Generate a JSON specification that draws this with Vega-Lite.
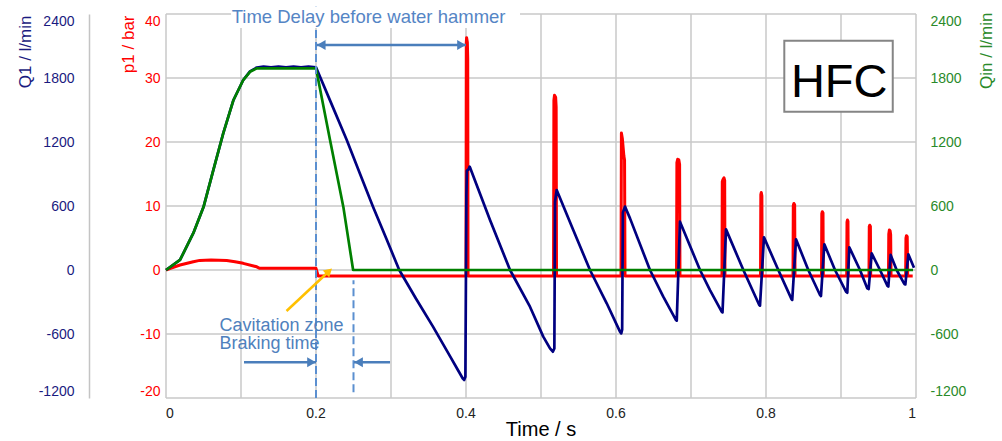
{
  "$schema": "https://vega.github.io/schema/vega-lite/v6.json",
  "width": 750,
  "height": 384,
  "autosize": {"type": "none"},
  "padding": {"left": 166, "top": 14, "right": 86, "bottom": 43},
  "background": "white",
  "config": {
    "font": "Liberation Sans",
    "view": {"stroke": null},
    "axis": {
      "labelFont": "Liberation Sans",
      "titleFont": "Liberation Sans",
      "titleFontWeight": "normal",
      "ticks": false,
      "domainColor": "#c4c4c4",
      "domainWidth": 1.5,
      "labelFontSize": 14,
      "labelOverlap": false
    }
  },
  "datasets": {
    "grid_t": [{"t": 0}, {"t": 0.1}, {"t": 0.2}, {"t": 0.3}, {"t": 0.4}, {"t": 0.5}, {"t": 0.6}, {"t": 0.7}, {"t": 0.8}, {"t": 0.9}, {"t": 1}],
    "grid_p": [
      {"level": -20, "t": 0, "p": -20}, {"level": -20, "t": 1, "p": -20},
      {"level": -10, "t": 0, "p": -10}, {"level": -10, "t": 1, "p": -10},
      {"level": 0, "t": 0, "p": 0}, {"level": 0, "t": 1, "p": 0},
      {"level": 10, "t": 0, "p": 10}, {"level": 10, "t": 1, "p": 10},
      {"level": 20, "t": 0, "p": 20}, {"level": 20, "t": 1, "p": 20},
      {"level": 30, "t": 0, "p": 30}, {"level": 30, "t": 1, "p": 30},
      {"level": 40, "t": 0, "p": 40}, {"level": 40, "t": 1, "p": 40}
    ],
    "time_ticks": [
      {"t": 0.2, "label": "0.2"}, {"t": 0.4, "label": "0.4"},
      {"t": 0.6, "label": "0.6"}, {"t": 0.8, "label": "0.8"}
    ],
    "time_start": [{"t": 0, "label": "0"}],
    "time_end": [{"t": 1, "label": "1"}],
    "time_title": [{"t": 0.5, "label": "Time / s"}],
    "pressure": [
      {"t": 0, "p": 0}, {"t": 0.006, "p": 0.25}, {"t": 0.0187, "p": 0.78}, {"t": 0.0364, "p": 1.3},
      {"t": 0.045, "p": 1.5}, {"t": 0.06, "p": 1.56}, {"t": 0.081, "p": 1.5}, {"t": 0.092, "p": 1.3},
      {"t": 0.103, "p": 1.04}, {"t": 0.121, "p": 0.5}, {"t": 0.125, "p": 0.26}, {"t": 0.2, "p": 0.26},
      {"t": 0.203, "p": -0.95},
      {"t": 0.4, "p": -0.95}, {"t": 0.4004, "p": 35.5}, {"t": 0.4008, "p": 36.3}, {"t": 0.4018, "p": 35.6}, {"t": 0.4023, "p": 33}, {"t": 0.4027, "p": -0.95},
      {"t": 0.5167, "p": -0.95}, {"t": 0.5172, "p": 26.5}, {"t": 0.518, "p": 27.3}, {"t": 0.5195, "p": 27}, {"t": 0.5202, "p": 25.5}, {"t": 0.5207, "p": -0.95},
      {"t": 0.6067, "p": -0.95}, {"t": 0.6072, "p": 21.4}, {"t": 0.6085, "p": 20.5}, {"t": 0.6105, "p": 17.8}, {"t": 0.6114, "p": 17.2}, {"t": 0.612, "p": -0.95},
      {"t": 0.6807, "p": -0.95}, {"t": 0.6812, "p": 16.8}, {"t": 0.6822, "p": 17.3}, {"t": 0.6838, "p": 17.2}, {"t": 0.6848, "p": 16.5}, {"t": 0.6853, "p": -0.95},
      {"t": 0.7413, "p": -0.95}, {"t": 0.7417, "p": 13.8}, {"t": 0.7425, "p": 14.1}, {"t": 0.744, "p": 14.4}, {"t": 0.7449, "p": 14}, {"t": 0.7453, "p": -0.95},
      {"t": 0.7927, "p": -0.95}, {"t": 0.7931, "p": 11.8}, {"t": 0.7937, "p": 12.1}, {"t": 0.7945, "p": 11.6}, {"t": 0.795, "p": -0.95},
      {"t": 0.836, "p": -0.95}, {"t": 0.8364, "p": 10.1}, {"t": 0.8372, "p": 10.4}, {"t": 0.8382, "p": 10.2}, {"t": 0.8387, "p": -0.95},
      {"t": 0.874, "p": -0.95}, {"t": 0.8744, "p": 8.8}, {"t": 0.8751, "p": 9.1}, {"t": 0.876, "p": 8.9}, {"t": 0.8764, "p": -0.95},
      {"t": 0.9076, "p": -0.95}, {"t": 0.908, "p": 7.5}, {"t": 0.9086, "p": 7.8}, {"t": 0.9093, "p": 7.6}, {"t": 0.9097, "p": -0.95},
      {"t": 0.9373, "p": -0.95}, {"t": 0.9377, "p": 6.8}, {"t": 0.9383, "p": 7.0}, {"t": 0.9392, "p": 6.8}, {"t": 0.9396, "p": -0.95},
      {"t": 0.9633, "p": -0.95}, {"t": 0.9637, "p": 5.6}, {"t": 0.9645, "p": 6.25}, {"t": 0.9655, "p": 6.1}, {"t": 0.9662, "p": 5.5}, {"t": 0.9667, "p": -0.95},
      {"t": 0.9862, "p": -0.95}, {"t": 0.9866, "p": 5.0}, {"t": 0.9873, "p": 5.36}, {"t": 0.9883, "p": 5.2}, {"t": 0.9889, "p": -0.95},
      {"t": 0.9956, "p": -0.95}
    ],
    "flow_q1": [
      {"t": 0, "q": 0}, {"t": 0.0187, "q": 94}, {"t": 0.0364, "q": 345}, {"t": 0.05, "q": 590}, {"t": 0.0631, "q": 937},
      {"t": 0.0764, "q": 1284}, {"t": 0.09, "q": 1594}, {"t": 0.103, "q": 1781}, {"t": 0.112, "q": 1862}, {"t": 0.121, "q": 1898},
      {"t": 0.13, "q": 1906}, {"t": 0.14, "q": 1899}, {"t": 0.15, "q": 1907}, {"t": 0.16, "q": 1900}, {"t": 0.17, "q": 1906},
      {"t": 0.18, "q": 1899}, {"t": 0.19, "q": 1906}, {"t": 0.2, "q": 1900},
      {"t": 0.2205, "q": 1560}, {"t": 0.241, "q": 1219}, {"t": 0.2585, "q": 905}, {"t": 0.276, "q": 594}, {"t": 0.294, "q": 290},
      {"t": 0.311, "q": 0}, {"t": 0.333, "q": -265}, {"t": 0.356, "q": -531}, {"t": 0.379, "q": -812}, {"t": 0.389, "q": -935},
      {"t": 0.3955, "q": -1015}, {"t": 0.3975, "q": -1031}, {"t": 0.3992, "q": -1000},
      {"t": 0.4005, "q": 700}, {"t": 0.4012, "q": 930}, {"t": 0.4035, "q": 945}, {"t": 0.4048, "q": 969}, {"t": 0.406, "q": 950},
      {"t": 0.432, "q": 469}, {"t": 0.4587, "q": 0}, {"t": 0.4853, "q": -344}, {"t": 0.503, "q": -625}, {"t": 0.512, "q": -735},
      {"t": 0.5158, "q": -766}, {"t": 0.5178, "q": -735},
      {"t": 0.5187, "q": 640}, {"t": 0.5209, "q": 750},
      {"t": 0.543, "q": 375}, {"t": 0.5653, "q": 0}, {"t": 0.5876, "q": -312}, {"t": 0.6053, "q": -578}, {"t": 0.607, "q": -594},
      {"t": 0.6082, "q": -560}, {"t": 0.6092, "q": 540}, {"t": 0.612, "q": 594},
      {"t": 0.6187, "q": 484}, {"t": 0.6453, "q": 0}, {"t": 0.663, "q": -250}, {"t": 0.68, "q": -469}, {"t": 0.681, "q": -475},
      {"t": 0.6853, "q": 453},
      {"t": 0.712, "q": 0}, {"t": 0.7253, "q": -188}, {"t": 0.7409, "q": -391}, {"t": 0.742, "q": -397},
      {"t": 0.7467, "q": 381},
      {"t": 0.7698, "q": 0}, {"t": 0.791, "q": -328}, {"t": 0.792, "q": -334},
      {"t": 0.7973, "q": 306},
      {"t": 0.8164, "q": 0}, {"t": 0.8342, "q": -275}, {"t": 0.835, "q": -280},
      {"t": 0.84, "q": 288},
      {"t": 0.8564, "q": 0}, {"t": 0.872, "q": -234}, {"t": 0.8733, "q": -244},
      {"t": 0.8778, "q": 241},
      {"t": 0.892, "q": 0}, {"t": 0.9067, "q": -203}, {"t": 0.9084, "q": -213},
      {"t": 0.9111, "q": 213},
      {"t": 0.9253, "q": 0}, {"t": 0.935, "q": -172}, {"t": 0.9369, "q": -178},
      {"t": 0.9409, "q": 156},
      {"t": 0.952, "q": 0}, {"t": 0.9618, "q": -147}, {"t": 0.9631, "q": -156},
      {"t": 0.9662, "q": 141},
      {"t": 0.9742, "q": 0}, {"t": 0.9844, "q": -131}, {"t": 0.9858, "q": -135},
      {"t": 0.9898, "q": 147},
      {"t": 0.9973, "q": 22}
    ],
    "flow_qin": [
      {"t": 0, "q": 0}, {"t": 0.0187, "q": 94}, {"t": 0.0364, "q": 345}, {"t": 0.05, "q": 590}, {"t": 0.0631, "q": 937},
      {"t": 0.0764, "q": 1284}, {"t": 0.09, "q": 1594}, {"t": 0.103, "q": 1781}, {"t": 0.112, "q": 1858}, {"t": 0.121, "q": 1891},
      {"t": 0.2, "q": 1891}, {"t": 0.2187, "q": 1219}, {"t": 0.2364, "q": 594}, {"t": 0.2495, "q": 0}, {"t": 0.996, "q": 0}
    ],
    "title_bg": [{"t0": 0.0867, "t1": 0.472, "p0": 37.8, "p1": 41.2}],
    "markers": [
      {"t": 0.2, "p0": -20, "p1": 41.7},
      {"t": 0.25, "p0": -19.1, "p1": -1.6}
    ],
    "spans": [
      {"t0": 0.2009, "t1": 0.4, "p": 35.16},
      {"t0": 0.104, "t1": 0.2, "p": -14.4},
      {"t0": 0.2507, "t1": 0.2987, "p": -14.4}
    ],
    "heads_right": [{"t": 0.394, "p": 35.16}, {"t": 0.194, "p": -14.4}],
    "heads_left": [{"t": 0.207, "p": 35.16}, {"t": 0.2567, "p": -14.4}],
    "pointer": [{"t0": 0.1607, "p0": -6.41, "t1": 0.2173, "p1": -0.2}],
    "pointer_head": [{"t": 0.2173, "p": -0.2}],
    "notes_top": [{"t": 0.0876, "p": 38.64, "text": "Time Delay before water hammer"}],
    "notes": [
      {"t": 0.0713, "p": -9.48, "text": "Cavitation zone"},
      {"t": 0.0713, "p": -12.39, "text": "Braking time"}
    ],
    "badge": [{"t0": 0.8244, "t1": 0.969, "p0": 24.73, "p1": 35.83, "tc": 0.8976, "pc": 27.08, "text": "HFC"}]
  },
  "resolve": {"scale": {"y": "independent"}},
  "layer": [
    {
      "data": {"name": "grid_t"},
      "mark": {"type": "rule", "color": "#c8c8c8", "strokeWidth": 1.5},
      "encoding": {
        "x": {"field": "t", "type": "quantitative", "scale": {"domain": [0, 1], "nice": false, "zero": false}, "axis": null},
        "y": {"datum": -20, "type": "quantitative", "scale": {"domain": [-20, 40], "nice": false, "zero": false}, "axis": null},
        "y2": {"datum": 40}
      }
    },
    {
      "data": {"name": "grid_p"},
      "mark": {"type": "line", "color": "#c8c8c8", "strokeWidth": 1.5},
      "encoding": {
        "x": {"field": "t", "type": "quantitative", "scale": {"domain": [0, 1], "nice": false, "zero": false}, "axis": null},
        "y": {"field": "p", "type": "quantitative", "scale": {"domain": [-20, 40], "nice": false, "zero": false}, "axis": null},
        "detail": {"field": "level", "type": "nominal"}
      }
    },
    {
      "data": {"name": "pressure"},
      "mark": {"type": "line", "color": "#ff0000", "strokeWidth": 3, "strokeJoin": "round"},
      "encoding": {
        "x": {"field": "t", "type": "quantitative", "scale": {"domain": [0, 1], "nice": false, "zero": false}, "axis": null},
        "y": {
          "field": "p", "type": "quantitative",
          "scale": {"domain": [-20, 40], "nice": false, "zero": false},
          "axis": {
            "orient": "left",
            "title": "p1 / bar",
            "values": [-20, -10, 0, 10, 20, 30, 40],
            "labelExpr": "'' + datum.value",
            "domain": false,
            "grid": false,
            "labelColor": "#ff0000",
            "labelPadding": 6,
            "labelFlush": true,
            "titleColor": "#ff0000",
            "titleFontSize": 17,
            "titleAngle": 270,
            "titleAlign": "right",
            "titleBaseline": "bottom",
            "titleX": -29,
            "titleY": 1
          }
        }
      }
    },
    {
      "data": {"name": "flow_q1"},
      "mark": {"type": "line", "color": "#000080", "strokeWidth": 2.7, "strokeJoin": "round"},
      "encoding": {
        "x": {"field": "t", "type": "quantitative", "scale": {"domain": [0, 1], "nice": false, "zero": false}, "axis": null},
        "y": {
          "field": "q", "type": "quantitative",
          "scale": {"domain": [-1200, 2400], "nice": false, "zero": false},
          "axis": {
            "orient": "left",
            "offset": 77,
            "title": "Q1 / l/min",
            "values": [-1200, -600, 0, 600, 1200, 1800, 2400],
            "labelExpr": "'' + datum.value",
            "grid": false,
            "labelColor": "#1a1a80",
            "labelPadding": 15,
            "labelFlush": true,
            "titleColor": "#1a1a80",
            "titleFontSize": 17,
            "titleAngle": 270,
            "titleAlign": "right",
            "titleBaseline": "bottom",
            "titleX": -55,
            "titleY": 1
          }
        }
      }
    },
    {
      "data": {"name": "flow_qin"},
      "mark": {"type": "line", "color": "#008000", "strokeWidth": 2.7, "strokeJoin": "round"},
      "encoding": {
        "x": {"field": "t", "type": "quantitative", "scale": {"domain": [0, 1], "nice": false, "zero": false}, "axis": null},
        "y": {
          "field": "q", "type": "quantitative",
          "scale": {"domain": [-1200, 2400], "nice": false, "zero": false},
          "axis": {
            "orient": "right",
            "title": "Qin / l/min",
            "values": [-1200, -600, 0, 600, 1200, 1800, 2400],
            "labelExpr": "'' + datum.value",
            "domain": false,
            "grid": false,
            "labelColor": "#2a8a2a",
            "labelPadding": 14,
            "labelFlush": true,
            "titleColor": "#2a8a2a",
            "titleFontSize": 17,
            "titleAngle": 270,
            "titleAlign": "right",
            "titleBaseline": "top",
            "titleX": 62,
            "titleY": -2
          }
        }
      }
    },
    {
      "data": {"name": "markers"},
      "mark": {"type": "rule", "color": "#5b8fd0", "strokeWidth": 2, "strokeDash": [8, 4]},
      "encoding": {
        "x": {"field": "t", "type": "quantitative", "scale": {"domain": [0, 1], "nice": false, "zero": false}, "axis": null},
        "y": {"field": "p0", "type": "quantitative", "scale": {"domain": [-20, 40], "nice": false, "zero": false}, "axis": null},
        "y2": {"field": "p1"}
      }
    },
    {
      "data": {"name": "title_bg"},
      "mark": {"type": "rect", "fill": "white", "strokeWidth": 0},
      "encoding": {
        "x": {"field": "t0", "type": "quantitative", "scale": {"domain": [0, 1], "nice": false, "zero": false}, "axis": null},
        "x2": {"field": "t1"},
        "y": {"field": "p0", "type": "quantitative", "scale": {"domain": [-20, 40], "nice": false, "zero": false}, "axis": null},
        "y2": {"field": "p1"}
      }
    },
    {
      "data": {"name": "spans"},
      "mark": {"type": "rule", "color": "#4a7ebb", "strokeWidth": 2.5},
      "encoding": {
        "x": {"field": "t0", "type": "quantitative", "scale": {"domain": [0, 1], "nice": false, "zero": false}, "axis": null},
        "x2": {"field": "t1"},
        "y": {"field": "p", "type": "quantitative", "scale": {"domain": [-20, 40], "nice": false, "zero": false}, "axis": null}
      }
    },
    {
      "data": {"name": "heads_right"},
      "mark": {"type": "point", "shape": "triangle-right", "filled": true, "size": 100, "color": "#4a7ebb", "opacity": 1},
      "encoding": {
        "x": {"field": "t", "type": "quantitative", "scale": {"domain": [0, 1], "nice": false, "zero": false}, "axis": null},
        "y": {"field": "p", "type": "quantitative", "scale": {"domain": [-20, 40], "nice": false, "zero": false}, "axis": null}
      }
    },
    {
      "data": {"name": "heads_left"},
      "mark": {"type": "point", "shape": "triangle-left", "filled": true, "size": 100, "color": "#4a7ebb", "opacity": 1},
      "encoding": {
        "x": {"field": "t", "type": "quantitative", "scale": {"domain": [0, 1], "nice": false, "zero": false}, "axis": null},
        "y": {"field": "p", "type": "quantitative", "scale": {"domain": [-20, 40], "nice": false, "zero": false}, "axis": null}
      }
    },
    {
      "data": {"name": "pointer"},
      "mark": {"type": "rule", "color": "#ffc000", "strokeWidth": 2.5},
      "encoding": {
        "x": {"field": "t0", "type": "quantitative", "scale": {"domain": [0, 1], "nice": false, "zero": false}, "axis": null},
        "x2": {"field": "t1"},
        "y": {"field": "p0", "type": "quantitative", "scale": {"domain": [-20, 40], "nice": false, "zero": false}, "axis": null},
        "y2": {"field": "p1"}
      }
    },
    {
      "data": {"name": "pointer_head"},
      "mark": {"type": "point", "shape": "triangle-up", "angle": 47, "filled": true, "size": 90, "color": "#ffc000", "opacity": 1},
      "encoding": {
        "x": {"field": "t", "type": "quantitative", "scale": {"domain": [0, 1], "nice": false, "zero": false}, "axis": null},
        "y": {"field": "p", "type": "quantitative", "scale": {"domain": [-20, 40], "nice": false, "zero": false}, "axis": null}
      }
    },
    {
      "data": {"name": "notes_top"},
      "mark": {"type": "text", "align": "left", "baseline": "alphabetic", "fontSize": 18.5, "color": "#5585c5"},
      "encoding": {
        "x": {"field": "t", "type": "quantitative", "scale": {"domain": [0, 1], "nice": false, "zero": false}, "axis": null},
        "y": {"field": "p", "type": "quantitative", "scale": {"domain": [-20, 40], "nice": false, "zero": false}, "axis": null},
        "text": {"field": "text"}
      }
    },
    {
      "data": {"name": "notes"},
      "mark": {"type": "text", "align": "left", "baseline": "alphabetic", "fontSize": 18, "color": "#4f81bd"},
      "encoding": {
        "x": {"field": "t", "type": "quantitative", "scale": {"domain": [0, 1], "nice": false, "zero": false}, "axis": null},
        "y": {"field": "p", "type": "quantitative", "scale": {"domain": [-20, 40], "nice": false, "zero": false}, "axis": null},
        "text": {"field": "text"}
      }
    },
    {
      "data": {"name": "time_ticks"},
      "mark": {"type": "text", "align": "center", "baseline": "alphabetic", "fontSize": 14, "color": "#222222"},
      "encoding": {
        "x": {"field": "t", "type": "quantitative", "scale": {"domain": [0, 1], "nice": false, "zero": false}, "axis": null},
        "y": {"datum": -23.15, "type": "quantitative", "scale": {"domain": [-20, 40], "nice": false, "zero": false}, "axis": null},
        "text": {"field": "label"}
      }
    },
    {
      "data": {"name": "time_start"},
      "mark": {"type": "text", "align": "left", "baseline": "alphabetic", "fontSize": 14, "color": "#222222"},
      "encoding": {
        "x": {"field": "t", "type": "quantitative", "scale": {"domain": [0, 1], "nice": false, "zero": false}, "axis": null},
        "y": {"datum": -23.15, "type": "quantitative", "scale": {"domain": [-20, 40], "nice": false, "zero": false}, "axis": null},
        "text": {"field": "label"}
      }
    },
    {
      "data": {"name": "time_end"},
      "mark": {"type": "text", "align": "right", "baseline": "alphabetic", "fontSize": 14, "color": "#222222"},
      "encoding": {
        "x": {"field": "t", "type": "quantitative", "scale": {"domain": [0, 1], "nice": false, "zero": false}, "axis": null},
        "y": {"datum": -23.15, "type": "quantitative", "scale": {"domain": [-20, 40], "nice": false, "zero": false}, "axis": null},
        "text": {"field": "label"}
      }
    },
    {
      "data": {"name": "time_title"},
      "mark": {"type": "text", "align": "center", "baseline": "alphabetic", "fontSize": 20, "color": "#000000"},
      "encoding": {
        "x": {"field": "t", "type": "quantitative", "scale": {"domain": [0, 1], "nice": false, "zero": false}, "axis": null},
        "y": {"datum": -25.9, "type": "quantitative", "scale": {"domain": [-20, 40], "nice": false, "zero": false}, "axis": null},
        "text": {"field": "label"}
      }
    },
    {
      "data": {"name": "badge"},
      "mark": {"type": "rect", "fill": "white", "stroke": "#858585", "strokeWidth": 2},
      "encoding": {
        "x": {"field": "t0", "type": "quantitative", "scale": {"domain": [0, 1], "nice": false, "zero": false}, "axis": null},
        "x2": {"field": "t1"},
        "y": {"field": "p0", "type": "quantitative", "scale": {"domain": [-20, 40], "nice": false, "zero": false}, "axis": null},
        "y2": {"field": "p1"}
      }
    },
    {
      "data": {"name": "badge"},
      "mark": {"type": "text", "align": "center", "baseline": "alphabetic", "fontSize": 47, "color": "#000000"},
      "encoding": {
        "x": {"field": "tc", "type": "quantitative", "scale": {"domain": [0, 1], "nice": false, "zero": false}, "axis": null},
        "y": {"field": "pc", "type": "quantitative", "scale": {"domain": [-20, 40], "nice": false, "zero": false}, "axis": null},
        "text": {"field": "text"}
      }
    }
  ]
}
